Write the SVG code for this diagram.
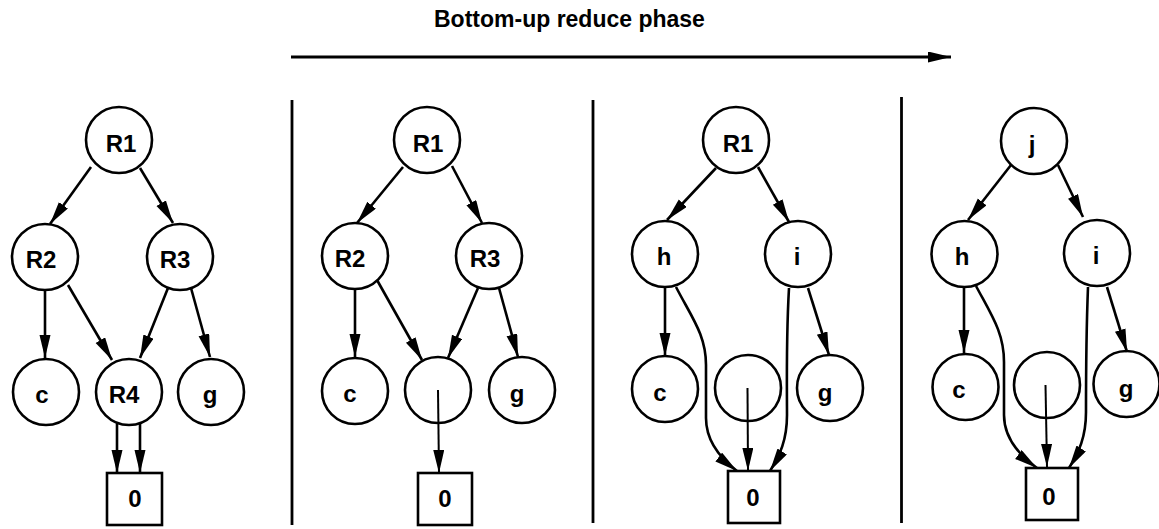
<svg xmlns="http://www.w3.org/2000/svg" width="1159" height="529" viewBox="0 0 1159 529">
<defs>
<style>
.n{fill:none;stroke:#000;stroke-width:2.6}
.t{font-family:"Liberation Sans",Arial,Helvetica,sans-serif;font-weight:bold;font-size:24px;text-anchor:middle;fill:#000}
.e{fill:none;stroke:#000;stroke-width:2.6;marker-end:url(#ah)}
.thin{stroke-width:2}
.sep{stroke:#000;stroke-width:2.8}
</style>
<marker id="ah" markerUnits="userSpaceOnUse" markerWidth="24" markerHeight="12" refX="23" refY="5.5" orient="auto">
<path d="M0,0 L23,5.5 L0,11 z" fill="#000"/>
</marker>
</defs>
<rect width="1159" height="529" fill="#fff"/>
<g id="title">
<text x="434" y="27" style="font-family:'Liberation Sans',Arial,Helvetica,sans-serif;font-weight:bold;font-size:23px;fill:#000">Bottom-up reduce phase</text>
<path class="e" d="M291,57 L951,57" style="stroke-width:3"/>
</g>
<g id="separators">
<line class="sep" x1="292" y1="100" x2="292" y2="525"/>
<line class="sep" x1="593" y1="100" x2="593" y2="523"/>
<line class="sep" x1="901.5" y1="97" x2="901.5" y2="523"/>
</g>
<!-- Panel 1 -->
<g id="p1-R1"><circle class="n" cx="119" cy="140" r="33"/><text class="t" x="121" y="152">R1</text></g>
<g id="p1-R2"><circle class="n" cx="45" cy="257" r="33"/><text class="t" x="41" y="268">R2</text></g>
<g id="p1-R3"><circle class="n" cx="180" cy="257" r="33"/><text class="t" x="175" y="268">R3</text></g>
<g id="p1-c"><circle class="n" cx="46" cy="392" r="33"/><text class="t" x="42" y="403">c</text></g>
<g id="p1-R4"><circle class="n" cx="129" cy="392" r="33"/><text class="t" x="124" y="403">R4</text></g>
<g id="p1-g"><circle class="n" cx="211" cy="392" r="33"/><text class="t" x="210" y="403">g</text></g>
<g id="p1-0"><rect class="n" x="107" y="473" width="55" height="52"/><text class="t" x="135" y="507">0</text></g>
<!-- Panel 2 -->
<g id="p2-R1"><circle class="n" cx="427" cy="140" r="33"/><text class="t" x="428" y="152">R1</text></g>
<g id="p2-R2"><circle class="n" cx="355" cy="256" r="33"/><text class="t" x="350" y="267">R2</text></g>
<g id="p2-R3"><circle class="n" cx="489" cy="256" r="33"/><text class="t" x="485" y="267">R3</text></g>
<g id="p2-c"><circle class="n" cx="355" cy="391" r="33"/><text class="t" x="350" y="402">c</text></g>
<g id="p2-e"><circle class="n" cx="438" cy="390" r="33"/></g>
<g id="p2-g"><circle class="n" cx="522" cy="390" r="33"/><text class="t" x="517" y="402">g</text></g>
<g id="p2-0"><rect class="n" x="418" y="473" width="54" height="52"/><text class="t" x="445" y="507">0</text></g>
<!-- Panel 3 -->
<g id="p3-R1"><circle class="n" cx="736" cy="140" r="33"/><text class="t" x="738" y="152">R1</text></g>
<g id="p3-h"><circle class="n" cx="665" cy="254" r="33"/><text class="t" x="664" y="265">h</text></g>
<g id="p3-i"><circle class="n" cx="798" cy="254" r="33"/><text class="t" x="797" y="265">i</text></g>
<g id="p3-c"><circle class="n" cx="665" cy="389" r="33"/><text class="t" x="660" y="401">c</text></g>
<g id="p3-e"><circle class="n" cx="748" cy="388" r="33"/></g>
<g id="p3-g"><circle class="n" cx="830" cy="388" r="33"/><text class="t" x="825" y="401">g</text></g>
<g id="p3-0"><rect class="n" x="728" y="471" width="52" height="52"/><text class="t" x="753" y="506">0</text></g>
<!-- Panel 4 -->
<g id="p4-j"><circle class="n" cx="1034" cy="141" r="33"/><text class="t" x="1032" y="153">j</text></g>
<g id="p4-h"><circle class="n" cx="964.5" cy="254" r="33"/><text class="t" x="962" y="265">h</text></g>
<g id="p4-i"><circle class="n" cx="1097" cy="253" r="33"/><text class="t" x="1096" y="264">i</text></g>
<g id="p4-c"><circle class="n" cx="965.5" cy="387" r="33"/><text class="t" x="959" y="398">c</text></g>
<g id="p4-e"><circle class="n" cx="1047" cy="385" r="33"/></g>
<g id="p4-g"><circle class="n" cx="1126.5" cy="384" r="33"/><text class="t" x="1126" y="397">g</text></g>
<g id="p4-0"><rect class="n" x="1026" y="468" width="52" height="52"/><text class="t" x="1049" y="505">0</text></g>
<g id="connectors">
<path class="e" d="M91,167 L50,224"/>
<path class="e" d="M140,168 L173,223"/>
<path class="e" d="M45,290 L45,358"/>
<path class="e" d="M68,285 L112,360"/>
<path class="e" d="M168,288 L140,358"/>
<path class="e" d="M191,288 L210,357"/>
<path class="e" d="M117,424 L117,473"/>
<path class="e" d="M140,424 L140,473"/>

<path class="e" d="M403,167 L357,223"/>
<path class="e" d="M452,166 L482,223"/>
<path class="e" d="M355,290 L355,357"/>
<path class="e" d="M377,280 L422,360"/>
<path class="e" d="M478,288 L448,358"/>
<path class="e" d="M499,288 L518,357"/>
<path class="e thin" d="M438,390 L439,473"/>

<path class="e" d="M716,168 L667,220"/>
<path class="e" d="M758,167 L789,222"/>
<path class="e" d="M665,288 L665,356"/>
<path class="e" d="M676,287 C692,318 706,335 706,365 L706,418 C706,440 720,458 737,471"/>
<path class="e" d="M789,288 C786,340 787,390 787,415 C787,440 780,455 770,471"/>
<path class="e" d="M808,288 L829,355"/>
<path class="e thin" d="M747.5,388 L748,471"/>

<path class="e" d="M1011,165 L968,220"/>
<path class="e" d="M1058,165 L1083,217"/>
<path class="e" d="M964,287 L964,353"/>
<path class="e" d="M976,286 C992,316 1004,333 1004,362 L1004,415 C1004,437 1019,455 1037,468"/>
<path class="e" d="M1088,287 C1086,338 1086,388 1086,412 C1086,437 1079,452 1069,468"/>
<path class="e" d="M1107,287 L1127,352"/>
<path class="e thin" d="M1045.5,385 L1047,467"/>
</g>
</svg>
